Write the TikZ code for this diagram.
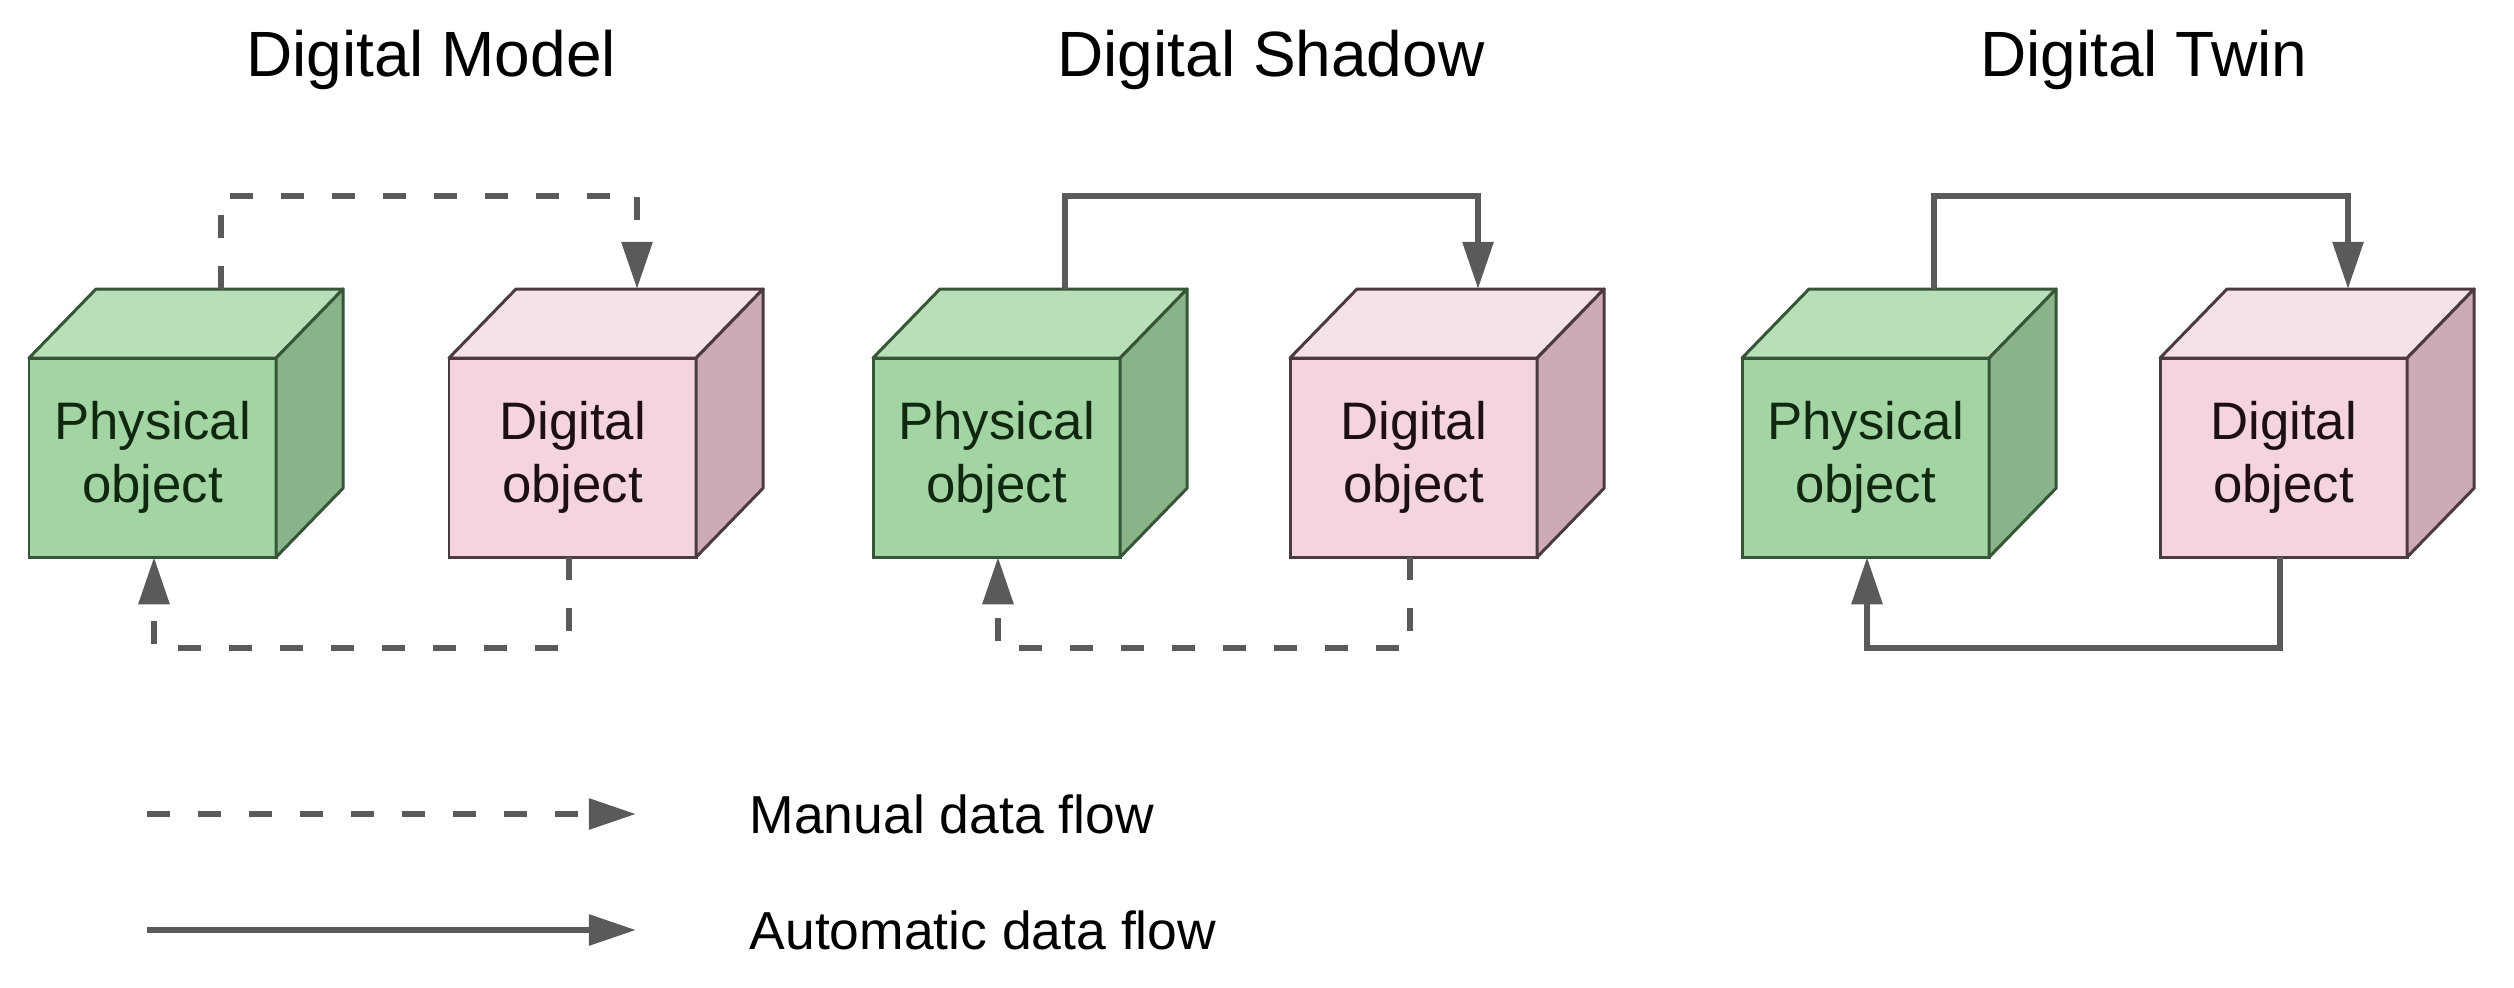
\documentclass[tikz,border=0pt]{standalone}
\usepackage{fontspec}
\setmainfont{Liberation Sans}
\usetikzlibrary{arrows.meta,calc}
\definecolor{greenfront}{RGB}{163,212,163}
\definecolor{greentop}{RGB}{184,223,184}
\definecolor{greenside}{RGB}{137,180,137}
\definecolor{greenline}{RGB}{55,85,55}
\definecolor{greentext}{RGB}{15,40,15}
\definecolor{pinkfront}{RGB}{243,212,223}
\definecolor{pinktop}{RGB}{246,225,232}
\definecolor{pinkside}{RGB}{204,170,182}
\definecolor{pinkline}{RGB}{75,58,64}
\definecolor{pinktext}{RGB}{30,15,20}
\definecolor{flowcol}{RGB}{90,90,90}
\tikzset{
  front/.style={draw, line width=0.85pt, minimum width=2.47cm, minimum height=1.99cm,
    inner sep=0pt, outer sep=0pt, anchor=north west, align=center,
    font=\fontsize{15pt}{17.9pt}\selectfont},
  face/.style={line width=0.85pt, line join=round},
  flow/.style={draw=flowcol, line width=1.8pt, -{Triangle[length=13.4pt,width=8.5pt]}},
  manual/.style={flow, dash pattern=on 6.5pt off 8pt},
  title/.style={anchor=base, inner sep=0pt, font=\fontsize{18.2pt}{22pt}\selectfont},
  legend/.style={anchor=base west, inner sep=0pt, font=\fontsize{15.2pt}{18pt}\selectfont}
}
\newcommand\drawcube[4]{%
  \node[front, fill=#3front, draw=#3line, text=#3text] (#1) at (#2) {#4};
  \path[face, fill=#3top, draw=#3line] (#1.north west) -- ++(67,-69)
     -- ($(#1.north east)+(67,-69)$) -- (#1.north east) -- cycle;
  \path[face, fill=#3side, draw=#3line] (#1.north east) -- ++(67,-69)
     -- ($(#1.south east)+(67,-69)$) -- (#1.south east) -- cycle;
}
\begin{document}
\begin{tikzpicture}[x=0.01cm, y=-0.01cm]
\useasboundingbox (0,0) rectangle (2514,987);
% titles
\node[title] (t1) at (431,76) {Digital Model};
\node[title] (t2) at (1271,76) {Digital Shadow};
\node[title] (t3) at (2144,76) {Digital Twin};
% cubes
\drawcube{p1}{29,358}{green}{Physical\\object}
\drawcube{d1}{449,358}{pink}{Digital\\object}
\drawcube{p2}{873,358}{green}{Physical\\object}
\drawcube{d2}{1290,358}{pink}{Digital\\object}
\drawcube{p3}{1742,358}{green}{Physical\\object}
\drawcube{d3}{2160,358}{pink}{Digital\\object}
% Digital Model
\draw[manual] ($(p1.north west)+(192,-69)$) -- ++(0,-93) -| ($(d1.north west)+(188,-69)$);
\draw[manual] ($(d1.south west)+(120,0)$) -- ++(0,91) -| ($(p1.south west)+(125,0)$);
% Digital Shadow
\draw[flow] ($(p2.north west)+(192,-69)$) -- ++(0,-93) -| ($(d2.north west)+(188,-69)$);
\draw[manual] ($(d2.south west)+(120,0)$) -- ++(0,91) -| ($(p2.south west)+(125,0)$);
% Digital Twin
\draw[flow] ($(p3.north west)+(192,-69)$) -- ++(0,-93) -| ($(d3.north west)+(188,-69)$);
\draw[flow] ($(d3.south west)+(120,0)$) -- ++(0,91) -| ($(p3.south west)+(125,0)$);
% legend
\coordinate (lm1) at (147,814);
\coordinate (lm2) at (636,814);
\coordinate (la1) at (147,930);
\coordinate (la2) at (636,930);
\draw[manual] (lm1) -- (lm2);
\draw[flow] (la1) -- (la2);
\node[legend] (lmt) at (749,833) {Manual data flow};
\node[legend] (lat) at (749,949) {Automatic data flow};
\end{tikzpicture}
\end{document}
